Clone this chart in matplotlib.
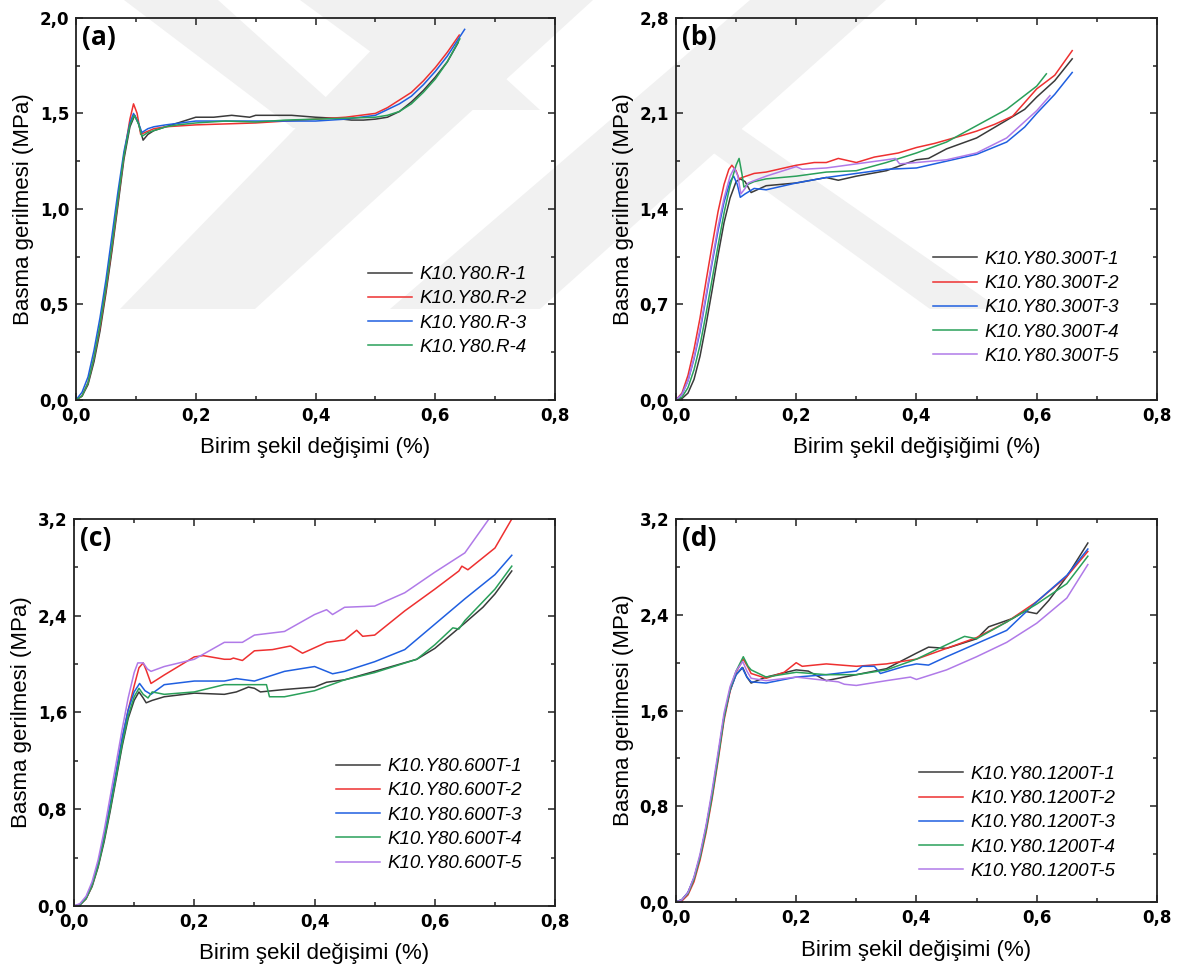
import matplotlib.pyplot as plt
from matplotlib.ticker import MultipleLocator, FuncFormatter
from matplotlib.patches import Polygon

#? Renkler
c_black = '#3a3a3a'
c_red = '#ee3030'
c_blue = '#1f5fe0'
c_green = '#2aa05a'
c_purple = '#b07ae8'

#? (a) K10.Y80.R
a_labels = ['K10.Y80.R-1', 'K10.Y80.R-2', 'K10.Y80.R-3', 'K10.Y80.R-4']
a1_x = [0, 0.01, 0.02, 0.03, 0.04, 0.05, 0.06, 0.07, 0.08, 0.09, 0.098, 0.105, 0.112, 0.12, 0.13, 0.15, 0.17, 0.2,
        0.23, 0.26, 0.29, 0.3, 0.33, 0.36, 0.4, 0.43, 0.46, 0.48, 0.5, 0.52, 0.54, 0.56, 0.58, 0.6, 0.62, 0.638]
a1_y = [0, 0.02, 0.08, 0.2, 0.36, 0.56, 0.78, 1.02, 1.26, 1.43, 1.49, 1.44, 1.36, 1.39, 1.41, 1.43, 1.45, 1.48,
        1.48, 1.49, 1.48, 1.49, 1.49, 1.49, 1.48, 1.475, 1.465, 1.465, 1.47, 1.48, 1.51, 1.56, 1.62, 1.69, 1.77, 1.87]
a2_x = [0, 0.01, 0.02, 0.03, 0.04, 0.05, 0.06, 0.07, 0.08, 0.09, 0.096, 0.102, 0.108, 0.115, 0.13, 0.15, 0.2, 0.25,
        0.3, 0.35, 0.4, 0.45, 0.5, 0.52, 0.54, 0.56, 0.58, 0.6, 0.62, 0.64]
a2_y = [0, 0.02, 0.09, 0.22, 0.38, 0.58, 0.8, 1.04, 1.28, 1.47, 1.55, 1.5, 1.39, 1.4, 1.42, 1.43, 1.44, 1.445,
        1.45, 1.46, 1.47, 1.48, 1.5, 1.53, 1.57, 1.61, 1.67, 1.74, 1.82, 1.91]
a3_x = [0, 0.01, 0.02, 0.03, 0.04, 0.05, 0.06, 0.07, 0.08, 0.09, 0.096, 0.103, 0.11, 0.12, 0.13, 0.15, 0.2, 0.25,
        0.3, 0.35, 0.4, 0.45, 0.5, 0.52, 0.54, 0.56, 0.58, 0.6, 0.62, 0.649]
a3_y = [0, 0.04, 0.12, 0.26, 0.43, 0.63, 0.86, 1.09, 1.3, 1.45, 1.5, 1.46, 1.4, 1.42, 1.43, 1.44, 1.46, 1.46,
        1.46, 1.46, 1.46, 1.47, 1.49, 1.52, 1.55, 1.59, 1.65, 1.72, 1.8, 1.94]
a4_x = [0, 0.01, 0.02, 0.03, 0.04, 0.05, 0.06, 0.07, 0.08, 0.09, 0.097, 0.104, 0.11, 0.12, 0.13, 0.15, 0.17, 0.2,
        0.25, 0.3, 0.35, 0.4, 0.45, 0.5, 0.52, 0.54, 0.56, 0.58, 0.6, 0.62, 0.641]
a4_y = [0, 0.02, 0.09, 0.22, 0.39, 0.59, 0.81, 1.05, 1.28, 1.44, 1.49, 1.45, 1.38, 1.4, 1.41, 1.43, 1.44, 1.45,
        1.46, 1.455, 1.465, 1.47, 1.475, 1.48, 1.49, 1.51, 1.55, 1.61, 1.68, 1.77, 1.89]

#? (b) K10.Y80.300T
b_labels = ['K10.Y80.300T-1', 'K10.Y80.300T-2', 'K10.Y80.300T-3', 'K10.Y80.300T-4', 'K10.Y80.300T-5']
b1_x = [0, 0.01, 0.02, 0.03, 0.04, 0.05, 0.06, 0.07, 0.08, 0.09, 0.1, 0.107, 0.115, 0.125, 0.15, 0.2, 0.25, 0.27,
        0.3, 0.35, 0.4, 0.42, 0.45, 0.5, 0.55, 0.58, 0.6, 0.63, 0.659]
b1_y = [0, 0.01, 0.05, 0.15, 0.32, 0.55, 0.8, 1.06, 1.3, 1.48, 1.6, 1.62, 1.6, 1.52, 1.57, 1.59, 1.63, 1.61,
        1.64, 1.68, 1.76, 1.77, 1.84, 1.92, 2.05, 2.13, 2.22, 2.34, 2.5]
b2_x = [0, 0.01, 0.02, 0.03, 0.04, 0.05, 0.06, 0.07, 0.08, 0.088, 0.093, 0.1, 0.105, 0.11, 0.13, 0.15, 0.17, 0.2,
        0.23, 0.25, 0.27, 0.3, 0.33, 0.37, 0.4, 0.43, 0.47, 0.5, 0.53, 0.56, 0.6, 0.63, 0.659]
b2_y = [0, 0.05, 0.18, 0.37, 0.6, 0.87, 1.13, 1.38, 1.58, 1.69, 1.72, 1.68, 1.62, 1.63, 1.66, 1.67, 1.69, 1.72,
        1.74, 1.74, 1.77, 1.74, 1.78, 1.81, 1.85, 1.88, 1.93, 1.97, 2.02, 2.08, 2.28, 2.38, 2.56]
b3_x = [0, 0.01, 0.02, 0.03, 0.04, 0.05, 0.06, 0.07, 0.08, 0.09, 0.096, 0.102, 0.107, 0.115, 0.13, 0.15, 0.2, 0.25,
        0.3, 0.35, 0.4, 0.45, 0.5, 0.55, 0.58, 0.6, 0.63, 0.659]
b3_y = [0, 0.04, 0.14, 0.3, 0.5, 0.75, 1.0, 1.24, 1.45, 1.6, 1.64, 1.58, 1.485, 1.51, 1.55, 1.54, 1.59, 1.63,
        1.66, 1.69, 1.7, 1.75, 1.8, 1.89, 2.0, 2.1, 2.24, 2.4]
b4_x = [0, 0.01, 0.02, 0.03, 0.04, 0.05, 0.06, 0.07, 0.08, 0.09, 0.1, 0.105, 0.11, 0.113, 0.12, 0.13, 0.15, 0.2,
        0.25, 0.3, 0.35, 0.4, 0.45, 0.5, 0.55, 0.6, 0.616]
b4_y = [0, 0.02, 0.09, 0.22, 0.4, 0.63, 0.88, 1.13, 1.37, 1.57, 1.72, 1.77, 1.65, 1.56, 1.58, 1.6, 1.62, 1.64,
        1.67, 1.68, 1.74, 1.81, 1.89, 2.01, 2.13, 2.3, 2.39]
b5_x = [0, 0.01, 0.02, 0.03, 0.04, 0.05, 0.06, 0.07, 0.08, 0.09, 0.097, 0.103, 0.108, 0.115, 0.12, 0.15, 0.2, 0.21,
        0.25, 0.3, 0.35, 0.365, 0.372, 0.4, 0.45, 0.5, 0.55, 0.6, 0.622]
b5_y = [0, 0.04, 0.14, 0.31, 0.52, 0.77, 1.02, 1.27, 1.48, 1.64, 1.7, 1.64, 1.51, 1.55, 1.59, 1.64, 1.71, 1.69,
        1.7, 1.73, 1.76, 1.77, 1.73, 1.74, 1.76, 1.81, 1.92, 2.12, 2.23]

#? (c) K10.Y80.600T
c_labels = ['K10.Y80.600T-1', 'K10.Y80.600T-2', 'K10.Y80.600T-3', 'K10.Y80.600T-4', 'K10.Y80.600T-5']
c1_x = [0, 0.01, 0.02, 0.03, 0.04, 0.05, 0.06, 0.07, 0.08, 0.09, 0.1, 0.108, 0.115, 0.12, 0.13, 0.15, 0.2, 0.25,
        0.27, 0.29, 0.3, 0.31, 0.35, 0.4, 0.42, 0.45, 0.5, 0.57, 0.6, 0.65, 0.68, 0.7, 0.728]
c1_y = [0, 0.01, 0.06, 0.16, 0.32, 0.53, 0.78, 1.05, 1.32, 1.55, 1.7, 1.77, 1.72, 1.68, 1.7, 1.73, 1.76, 1.75,
        1.77, 1.81, 1.8, 1.77, 1.79, 1.81, 1.85, 1.87, 1.94, 2.04, 2.13, 2.34, 2.47, 2.58, 2.77]
c2_x = [0, 0.01, 0.02, 0.03, 0.04, 0.05, 0.06, 0.07, 0.08, 0.09, 0.1, 0.108, 0.115, 0.12, 0.128, 0.15, 0.2, 0.215,
        0.25, 0.26, 0.265, 0.28, 0.3, 0.33, 0.36, 0.38, 0.42, 0.45, 0.47, 0.48, 0.5, 0.55, 0.6, 0.64, 0.645,
        0.655, 0.7, 0.728]
c2_y = [0, 0.01, 0.06, 0.17, 0.34, 0.56, 0.82, 1.1, 1.38, 1.62, 1.82, 1.97, 2.01, 1.95, 1.84, 1.91, 2.06, 2.07,
        2.04, 2.04, 2.05, 2.03, 2.11, 2.12, 2.15, 2.09, 2.18, 2.2, 2.28, 2.23, 2.24, 2.44, 2.62, 2.77, 2.81,
        2.78, 2.96, 3.2]
c3_x = [0, 0.01, 0.02, 0.03, 0.04, 0.05, 0.06, 0.07, 0.08, 0.09, 0.1, 0.109, 0.118, 0.128, 0.15, 0.2, 0.25, 0.27,
        0.3, 0.35, 0.4, 0.43, 0.45, 0.5, 0.55, 0.6, 0.65, 0.7, 0.728]
c3_y = [0, 0.01, 0.07, 0.18, 0.35, 0.57, 0.84, 1.11, 1.39, 1.62, 1.77, 1.84, 1.78, 1.75, 1.83, 1.86, 1.86, 1.88,
        1.86, 1.94, 1.98, 1.92, 1.94, 2.02, 2.12, 2.33, 2.54, 2.74, 2.9]
c4_x = [0, 0.01, 0.02, 0.03, 0.04, 0.05, 0.06, 0.07, 0.08, 0.09, 0.1, 0.108, 0.115, 0.123, 0.13, 0.15, 0.2, 0.25,
        0.3, 0.32, 0.325, 0.35, 0.4, 0.45, 0.5, 0.57, 0.6, 0.63, 0.64, 0.65, 0.7, 0.728]
c4_y = [0, 0.01, 0.06, 0.17, 0.33, 0.55, 0.8, 1.07, 1.34, 1.57, 1.73, 1.8, 1.75, 1.72, 1.77, 1.75, 1.77, 1.83,
        1.83, 1.83, 1.73, 1.73, 1.78, 1.87, 1.93, 2.04, 2.16, 2.3, 2.29, 2.36, 2.62, 2.81]
c5_x = [0, 0.01, 0.02, 0.03, 0.04, 0.05, 0.06, 0.07, 0.08, 0.09, 0.1, 0.106, 0.115, 0.122, 0.128, 0.15, 0.2, 0.25,
        0.28, 0.3, 0.35, 0.4, 0.42, 0.43, 0.45, 0.5, 0.55, 0.6, 0.65, 0.69]
c5_y = [0, 0.02, 0.08, 0.2, 0.38, 0.62, 0.9, 1.18, 1.46, 1.72, 1.93, 2.01, 2.01, 1.96, 1.94, 1.98, 2.04, 2.18,
        2.18, 2.24, 2.27, 2.41, 2.45, 2.41, 2.47, 2.48, 2.59, 2.76, 2.92, 3.2]

#? (d) K10.Y80.1200T
d_labels = ['K10.Y80.1200T-1', 'K10.Y80.1200T-2', 'K10.Y80.1200T-3', 'K10.Y80.1200T-4', 'K10.Y80.1200T-5']
d1_x = [0, 0.01, 0.02, 0.03, 0.04, 0.05, 0.06, 0.07, 0.08, 0.09, 0.1, 0.111, 0.118, 0.125, 0.15, 0.2, 0.22, 0.25,
        0.3, 0.35, 0.4, 0.42, 0.45, 0.5, 0.52, 0.56, 0.58, 0.6, 0.62, 0.65, 0.685]
d1_y = [0, 0.02, 0.08, 0.2, 0.38, 0.62, 0.9, 1.22, 1.55, 1.77, 1.9, 1.96, 1.88, 1.83, 1.88, 1.94, 1.93, 1.85,
        1.9, 1.95, 2.08, 2.13, 2.12, 2.2, 2.3, 2.37, 2.43, 2.41, 2.52, 2.72, 3.0]
d2_x = [0, 0.01, 0.02, 0.03, 0.04, 0.05, 0.06, 0.07, 0.08, 0.09, 0.1, 0.112, 0.12, 0.125, 0.15, 0.18, 0.2, 0.21,
        0.25, 0.3, 0.35, 0.4, 0.45, 0.5, 0.55, 0.6, 0.65, 0.685]
d2_y = [0, 0.01, 0.06, 0.17, 0.35, 0.58, 0.86, 1.18, 1.52, 1.76, 1.92, 2.03, 1.96, 1.91, 1.87, 1.92, 2.0, 1.97,
        1.99, 1.97, 1.99, 2.03, 2.12, 2.21, 2.34, 2.51, 2.72, 2.93]
d3_x = [0, 0.01, 0.02, 0.03, 0.04, 0.05, 0.06, 0.07, 0.08, 0.09, 0.1, 0.11, 0.118, 0.125, 0.15, 0.2, 0.25, 0.3,
        0.31, 0.33, 0.34, 0.38, 0.4, 0.42, 0.45, 0.5, 0.55, 0.6, 0.65, 0.685]
d3_y = [0, 0.02, 0.08, 0.2, 0.38, 0.62, 0.9, 1.22, 1.55, 1.77, 1.9, 1.96, 1.88, 1.84, 1.83, 1.88, 1.9, 1.93,
        1.97, 1.97, 1.91, 1.97, 1.99, 1.98, 2.05, 2.16, 2.27, 2.51, 2.73, 2.95]
d4_x = [0, 0.01, 0.02, 0.03, 0.04, 0.05, 0.06, 0.07, 0.08, 0.09, 0.1, 0.112, 0.12, 0.125, 0.15, 0.2, 0.25, 0.3,
        0.35, 0.4, 0.45, 0.48, 0.5, 0.55, 0.6, 0.65, 0.685]
d4_y = [0, 0.02, 0.07, 0.19, 0.37, 0.6, 0.88, 1.2, 1.54, 1.78, 1.93, 2.05, 1.97, 1.94, 1.88, 1.92, 1.9, 1.9,
        1.94, 2.03, 2.15, 2.22, 2.2, 2.34, 2.49, 2.66, 2.89]
d5_x = [0, 0.01, 0.02, 0.03, 0.04, 0.05, 0.06, 0.07, 0.08, 0.09, 0.1, 0.111, 0.118, 0.125, 0.15, 0.2, 0.27, 0.28,
        0.3, 0.35, 0.39, 0.4, 0.45, 0.5, 0.55, 0.6, 0.65, 0.685]
d5_y = [0, 0.02, 0.08, 0.21, 0.4, 0.64, 0.93, 1.25, 1.58, 1.8, 1.93, 2.01, 1.93, 1.87, 1.85, 1.88, 1.84, 1.82,
        1.81, 1.85, 1.88, 1.86, 1.94, 2.05, 2.17, 2.33, 2.54, 2.82]

#? Watermerk op de achtergrond (lichtgrijze banden, in pixels van de figuur)
watermark = [
    [(120, 309), (255, 309), (593, 0), (420, 0)],
    [(124, 0), (218, 0), (360, 128), (293, 128)],
    [(390, 309), (540, 309), (886, 0), (750, 0)],
    [(300, 0), (420, 0), (540, 110), (450, 110)],
    [(640, 100), (700, 100), (1000, 309), (930, 309)],
]

#? Figuur
fig = plt.figure(figsize=(11.77, 9.73), dpi=100)

bg = fig.add_axes([0, 0, 1, 1], zorder=-10)
bg.set_xlim(0, 1177)
bg.set_ylim(973, 0)
bg.axis('off')
for poly in watermark:
    bg.add_patch(Polygon(poly, closed=True, facecolor='#f1f1f1', edgecolor='none'))

label_font = 'Liberation Sans'
comma = FuncFormatter(lambda v, p: f"{v:.1f}".replace('.', ','))


def make_panel(rect, ymax, ystep, letter, xlabel, series, labels, leg_pos):
    ax = fig.add_axes(rect)
    colors = [c_black, c_red, c_blue, c_green, c_purple]
    for (xs, ys), lab, col in zip(series, labels, colors):
        ax.plot(xs, ys, color=col, lw=1.1, label=lab)
    ax.set_xlim(0, 0.8)
    ax.set_ylim(0, ymax)
    ax.xaxis.set_major_locator(MultipleLocator(0.2))
    ax.xaxis.set_minor_locator(MultipleLocator(0.1))
    ax.yaxis.set_major_locator(MultipleLocator(ystep))
    ax.yaxis.set_minor_locator(MultipleLocator(ystep / 2))
    ax.xaxis.set_major_formatter(comma)
    ax.yaxis.set_major_formatter(comma)
    ax.tick_params(which='both', direction='in', top=True, right=True, width=1.1, color='#222222')
    ax.tick_params(which='major', length=5, pad=5, labelsize=12)
    ax.tick_params(which='minor', length=3)
    for t in ax.get_xticklabels() + ax.get_yticklabels():
        t.set_fontweight('bold')
        t.set_family('DejaVu Sans')
    for s in ax.spines.values():
        s.set_linewidth(1.3)
        s.set_color('#222222')
    ax.set_xlabel(xlabel, fontsize=16, family=label_font, labelpad=9)
    ax.set_ylabel('Basma gerilmesi (MPa)', fontsize=16, family=label_font, labelpad=4)
    ax.text(0.013, 0.985, letter, transform=ax.transAxes, ha='left', va='top',
            fontsize=19, fontweight='bold', family='Open Sans')
    ax.legend(loc='center left', bbox_to_anchor=leg_pos, frameon=False, borderpad=0, borderaxespad=0,
              handlelength=2.35, handletextpad=0.4, labelspacing=0.38,
              prop={'family': label_font, 'style': 'italic', 'size': 13.5})
    ax.patch.set_alpha(0)
    return ax


make_panel([0.0646, 0.589, 0.407, 0.3926], 2.0, 0.5, '(a)', 'Birim şekil değişimi (%)',
           [(a1_x, a1_y), (a2_x, a2_y), (a3_x, a3_y), (a4_x, a4_y)], a_labels, (0.61, 0.233))
make_panel([0.5743, 0.589, 0.4087, 0.3926], 2.8, 0.7, '(b)', 'Birim şekil değişiğimi (%)',
           [(b1_x, b1_y), (b2_x, b2_y), (b3_x, b3_y), (b4_x, b4_y), (b5_x, b5_y)], b_labels, (0.534, 0.241))
make_panel([0.0629, 0.0689, 0.4087, 0.3977], 3.2, 0.8, '(c)', 'Birim şekil değişimi (%)',
           [(c1_x, c1_y), (c2_x, c2_y), (c3_x, c3_y), (c4_x, c4_y), (c5_x, c5_y)], c_labels, (0.545, 0.235))
make_panel([0.5743, 0.0729, 0.4087, 0.3936], 3.2, 0.8, '(d)', 'Birim şekil değişimi (%)',
           [(d1_x, d1_y), (d2_x, d2_y), (d3_x, d3_y), (d4_x, d4_y), (d5_x, d5_y)], d_labels, (0.505, 0.207))

fig.savefig('out.png', dpi=100)
